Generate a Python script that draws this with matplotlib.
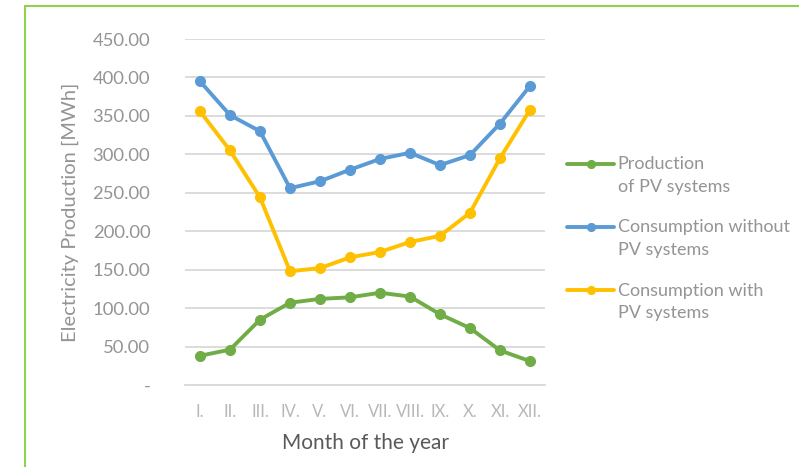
#!/usr/bin/env python3
"""
Monthly electricity production / consumption with and without PV systems
"""
import matplotlib.pyplot as plt
from matplotlib.patches import Rectangle
from matplotlib.ticker import FuncFormatter
from matplotlib.legend_handler import HandlerLine2D

plt.rcParams['font.family'] = ['Lato', 'DejaVu Sans']

# data (MWh)
months = ['I.', 'II.', 'III.', 'IV.', 'V.', 'VI.', 'VII.', 'VIII.', 'IX.', 'X.', 'XI.', 'XII.']
production = [38, 46, 85, 107, 112, 114, 120, 115, 92, 74, 45, 31]
consumption_without = [395, 351, 330, 256, 265, 280, 294, 302, 286, 299, 340, 389]
consumption_with = [356, 305, 244, 148, 152, 166, 173, 186, 194, 224, 295, 358]
series_labels = ['Production\nof PV systems', 'Consumption without\nPV systems', 'Consumption with\nPV systems']
colors = ['#70AD47', '#5B9BD5', '#FFC000']
y_ticks = [0, 50, 100, 150, 200, 250, 300, 350, 400, 450]


class TopLineHandler(HandlerLine2D):
    # put the legend key next to the first line of a two-line label
    def create_artists(self, legend, orig_handle, xdescent, ydescent, width, height, fontsize, trans):
        return super().create_artists(legend, orig_handle, xdescent, ydescent - 17.5, width, height,
                                      fontsize, trans)


fig = plt.figure(figsize=(7.99, 4.67), dpi=100)
fig.patch.set_facecolor('white')

# green frame around the chart (runs off the right and bottom edges)
fig.patches.append(Rectangle((25 / 799, -0.2), 1.0, 1.2 - 6 / 467, transform=fig.transFigure,
                             fill=False, edgecolor='#92D050', linewidth=1.5, zorder=0))

ax = fig.add_axes([185 / 799, 1 - 385 / 467, 360 / 799, 346 / 467])

x = range(len(months))
lines = []
for vals, lab, col in zip([production, consumption_without, consumption_with], series_labels, colors):
    ln, = ax.plot(x, vals, '-o', color=col, linewidth=2.8, markersize=7, label=lab,
                  solid_joinstyle='round', solid_capstyle='round')
    lines.append(ln)

ax.set_xlim(-0.5, len(months) - 0.5)
ax.set_ylim(0, 450)
ax.set_xticks(list(x))
ax.set_xticklabels(months)
ax.set_yticks(y_ticks)
ax.yaxis.set_major_formatter(FuncFormatter(lambda v, p: '-' if v == 0 else f'{v:.2f}'))

ax.grid(True, axis='y', color='#D9D9D9', linewidth=1.3)
ax.set_axisbelow(True)
for side in ['top', 'right', 'left']:
    ax.spines[side].set_visible(False)
ax.spines['bottom'].set_color('#D9D9D9')
ax.spines['bottom'].set_linewidth(1.3)
ax.tick_params(axis='both', length=0)
ax.tick_params(axis='y', labelsize=13.3, labelcolor='#949494', pad=25)
ax.tick_params(axis='x', labelsize=12, labelcolor='#B8B8B8', pad=14)

ax.set_xlabel('Month of the year', fontsize=15, color='#595959', labelpad=9)
ax.set_ylabel('Electricity Production [MWh]', fontsize=14.5, color='#949494', labelpad=10)

leg = fig.legend(handles=lines, loc='upper left', bbox_to_anchor=(551 / 799, 1 - 140 / 467),
                 frameon=False, fontsize=13, labelcolor='#949494', handlelength=2.6,
                 handletextpad=0.2, labelspacing=1.35, markerscale=0.8,
                 handler_map={ln: TopLineHandler() for ln in lines})
for t in leg.get_texts():
    t.set_linespacing(1.52)

plt.savefig('out.png', dpi=100, facecolor='white')
plt.close()
